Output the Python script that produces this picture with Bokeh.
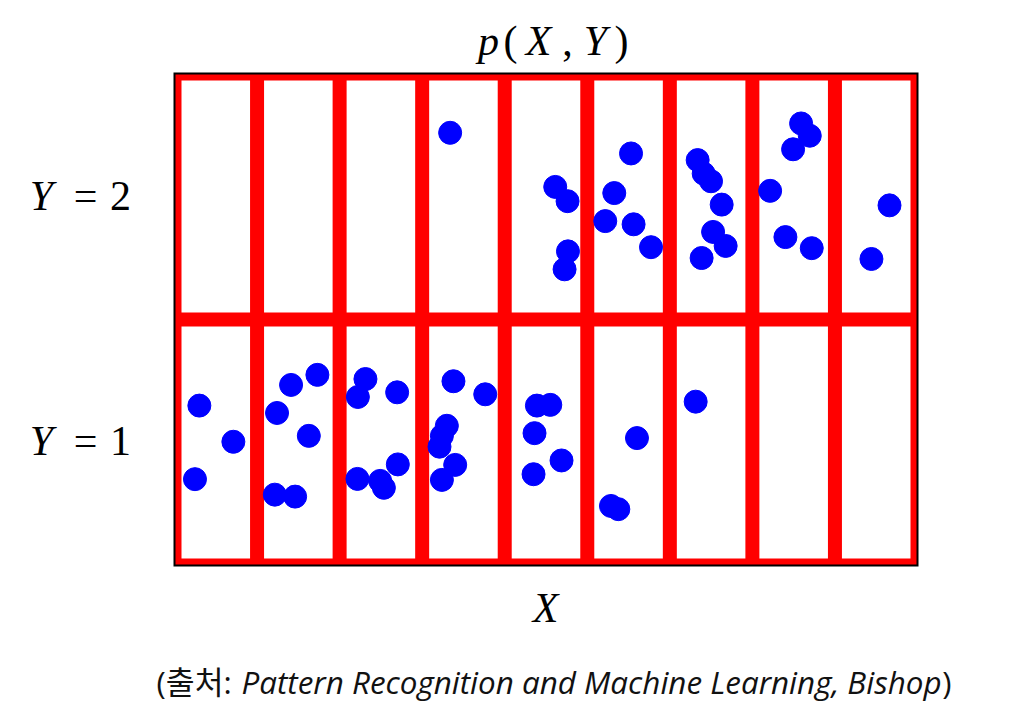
from bokeh.plotting import figure
from bokeh.models import Label, Range1d
from bokeh.embed import file_html
from bokeh.resources import INLINE

# Grid: 9 X-bins, 2 Y-rows
x_edges = [0, 1, 2, 3, 4, 5, 6, 7, 8, 9]
y_edges = [0, 1, 2]

# Samples with Y = 2 (upper row)
x_y2 = [3.339, 4.612, 4.761, 4.766, 4.725, 5.530, 5.327, 5.218, 5.561, 5.772,
        6.337, 6.410, 6.499, 6.628, 6.524, 6.676, 6.385,
        7.590, 7.695, 7.493, 7.215, 7.400, 7.719, 8.661, 8.442]
y_y2 = [1.759, 1.539, 1.481, 1.277, 1.204, 1.675, 1.514, 1.400, 1.387, 1.294,
        1.648, 1.593, 1.562, 1.467, 1.356, 1.299, 1.250,
        1.797, 1.747, 1.692, 1.523, 1.335, 1.290, 1.464, 1.246]

# Samples with Y = 1 (lower row)
x_y1 = [0.301, 0.713, 0.248, 1.731, 1.412, 1.242, 1.627, 1.215, 1.461,
        2.313, 2.221, 2.697, 2.705, 2.216, 2.491, 2.536,
        3.379, 3.764, 3.299, 3.239, 3.210, 3.400, 3.239,
        4.390, 4.552, 4.361, 4.349, 4.688, 5.602, 5.287, 5.376, 6.313]
y_y1 = [0.650, 0.503, 0.351, 0.775, 0.734, 0.620, 0.527, 0.288, 0.280,
        0.758, 0.685, 0.704, 0.411, 0.352, 0.344, 0.316,
        0.749, 0.696, 0.568, 0.527, 0.483, 0.409, 0.348,
        0.650, 0.653, 0.538, 0.371, 0.427, 0.518, 0.242, 0.229, 0.666]

W, H = 1022, 716
BX0, BY0, BW, BH = 174, 73, 743, 492   # pixel box of the grid on the canvas
NX, NY = x_edges[-1], y_edges[-1]
sx, sy = BW / NX, BH / NY              # pixels per data unit

p = figure(width=W, height=H, output_backend="svg", toolbar_location=None,
           x_range=Range1d(-BX0 / sx, (W - BX0) / sx),
           y_range=Range1d(-(H - BY0 - BH) / sy, NY + BY0 / sy),
           min_border=0, x_axis_location=None, y_axis_location=None)
p.xgrid.visible = False
p.ygrid.visible = False
p.background_fill_color = "white"
p.border_fill_color = "white"
p.outline_line_color = None

RED = "#ff0000"
LW = 14
# inner grid lines
inner_x = x_edges[1:-1]
p.segment(x0=inner_x, y0=[y_edges[0]] * len(inner_x), x1=inner_x,
          y1=[y_edges[-1]] * len(inner_x), line_color=RED, line_width=LW)
inner_y = y_edges[1:-1]
p.segment(x0=[x_edges[0]] * len(inner_y), y0=inner_y, x1=[x_edges[-1]] * len(inner_y),
          y1=inner_y, line_color=RED, line_width=LW)
# red inner border (half line width, inset so it stays inside the box)
ix, iy = (LW / 4) / sx, (LW / 4) / sy
p.quad(left=[x_edges[0] + ix], right=[x_edges[-1] - ix], bottom=[y_edges[0] + iy],
       top=[y_edges[-1] - iy], fill_color=None, line_color=RED, line_width=LW / 2,
       line_join="miter")
# black outer frame
p.quad(left=[x_edges[0]], right=[x_edges[-1]], bottom=[y_edges[0]], top=[y_edges[-1]],
       fill_color=None, line_color="black", line_width=2, line_join="miter")

p.scatter(x_y2, y_y2, size=23, fill_color="#0000ff", line_color="#0000ff")
p.scatter(x_y1, y_y1, size=23, fill_color="#0000ff", line_color="#0000ff")

# helpers for text placement (canvas pixel -> data)
def dx(px):
    return (px - BX0) / sx

def dy(py):
    return (BY0 + BH - py) / sy

SERIF = "Liberation Serif"
def lab(txt, px, py, size, italic=False, font=SERIF, align="center", color="black"):
    p.add_layout(Label(x=dx(px), y=dy(py), text=txt, text_font=font,
                       text_font_size=f"{size}px",
                       text_font_style="italic" if italic else "normal",
                       text_align=align, text_baseline="middle",
                       text_color=color))

MS = 42
# title p(X, Y)
TY = 40
lab("p", 488, TY, MS, True)
lab("(", 510, TY, MS)
lab("X", 538, TY, MS, True)
lab(",", 567, TY, MS)
lab("Y", 595, TY, MS, True)
lab(")", 621, TY, MS)

# row labels
for row_txt, mid in (("2", 195), ("1", 440)):
    lab("Y", 41, mid, MS, True)
    lab("=", 85, mid, MS)
    lab(row_txt, 120, mid, MS)

# X axis label
lab("X", 545, 607, MS, True)

# caption
CAP = "'Open Sans', 'Noto Sans CJK KR'"
CS = 31.4
CY = 681
lab("(출처:", 156, CY, CS, False, CAP, align="left", color="#111111")
lab("Pattern Recognition and Machine Learning, Bishop", 241, CY, CS, True, CAP,
    align="left", color="#111111")
lab(")", 951, CY, CS, False, CAP, align="right", color="#111111")

open("out.html", "w").write(file_html(p, INLINE))
